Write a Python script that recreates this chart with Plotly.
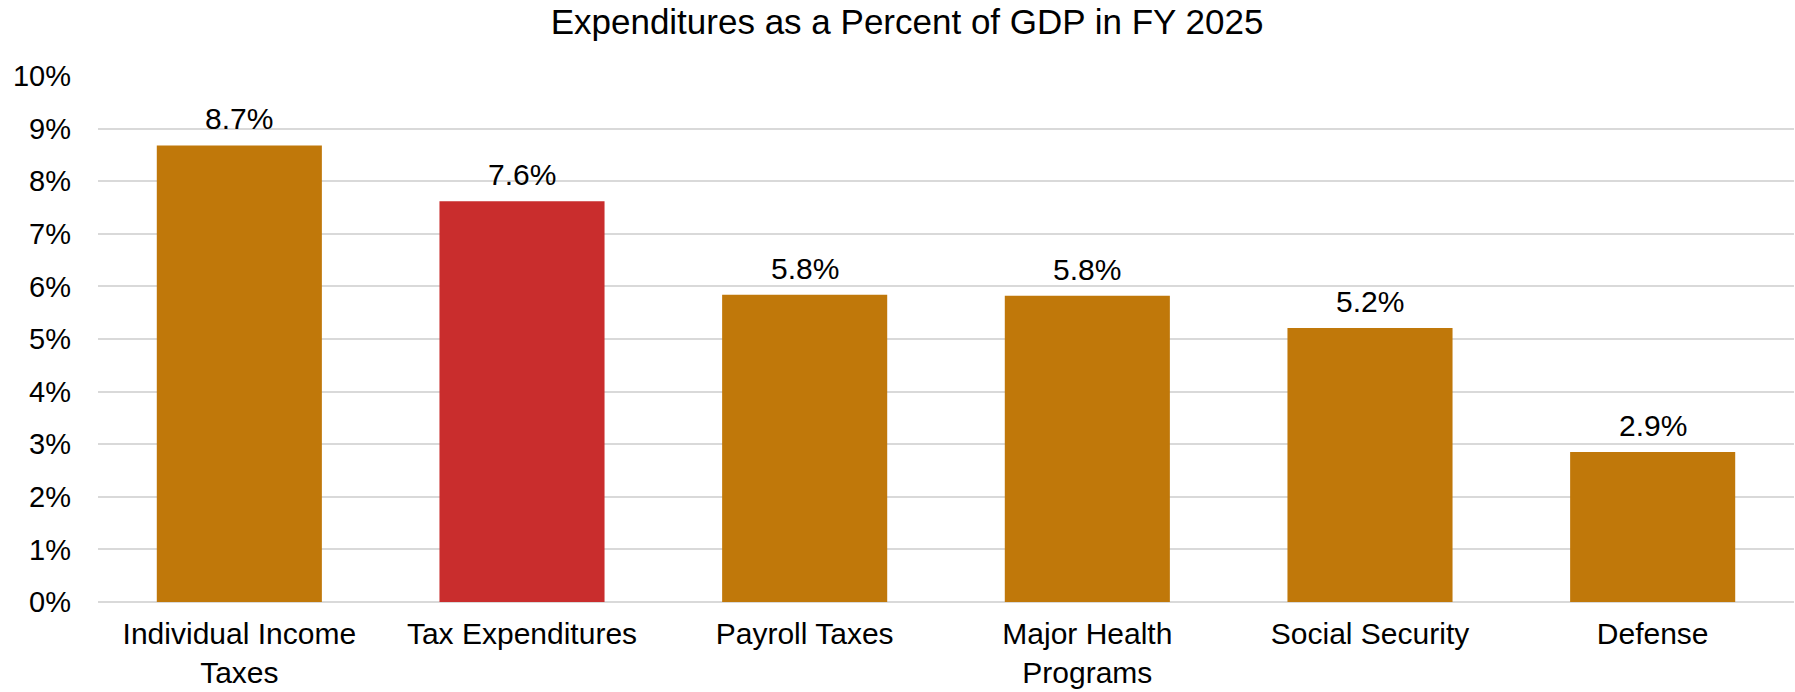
import plotly.graph_objects as go

categories = ["Individual Income<br>Taxes", "Tax Expenditures", "Payroll Taxes",
              "Major Health<br>Programs", "Social Security", "Defense"]
values = [8.68, 7.62, 5.84, 5.82, 5.21, 2.85]
bar_colors = ["#C0780A", "#C92D2D", "#C0780A", "#C0780A", "#C0780A", "#C0780A"]
y_ticks = [0, 1, 2, 3, 4, 5, 6, 7, 8, 9, 10]
y_tick_labels = [f"{v}%" for v in y_ticks]
title_text = "Expenditures as a Percent of GDP in FY 2025"

FONT = "Liberation Sans, Arial, sans-serif"

fig = go.Figure()
fig.add_trace(go.Bar(
    x=categories,
    y=values,
    marker=dict(color=bar_colors, line=dict(width=0)),
    hoverinfo="skip",
))

for c, v in zip(categories, values):
    fig.add_annotation(
        x=c, y=v, xref="x", yref="y",
        text=f"{v:.1f}%",
        showarrow=False,
        yanchor="bottom",
        yshift=8,
        font=dict(family=FONT, size=30, color="#000000"),
    )

fig.update_layout(
    width=1795, height=692,
    margin=dict(l=98, r=1, t=76, b=90),
    paper_bgcolor="white",
    plot_bgcolor="white",
    bargap=0.416,
    showlegend=False,
    title=dict(
        text=title_text,
        x=0.5053, xref="container", xanchor="center",
        y=1, yref="container", yanchor="top", pad=dict(t=9),
        font=dict(family=FONT, size=35, color="#000000"),
    ),
    font=dict(family=FONT, size=30, color="#000000"),
)

fig.update_xaxes(
    showgrid=False,
    showline=False,
    ticks="",
    tickfont=dict(family=FONT, size=30, color="#000000"),
    ticklabelstandoff=11,
)
fig.update_yaxes(
    range=[0, 10],
    tickvals=y_ticks,
    ticktext=y_tick_labels,
    showgrid=True,
    gridcolor="#D9D9D9",
    gridwidth=2,
    zeroline=True,
    zerolinecolor="#D9D9D9",
    zerolinewidth=2,
    showline=False,
    ticks="",
    tickfont=dict(family=FONT, size=29, color="#000000"),
    ticklabelstandoff=26,
)

fig.write_html("out.html")
